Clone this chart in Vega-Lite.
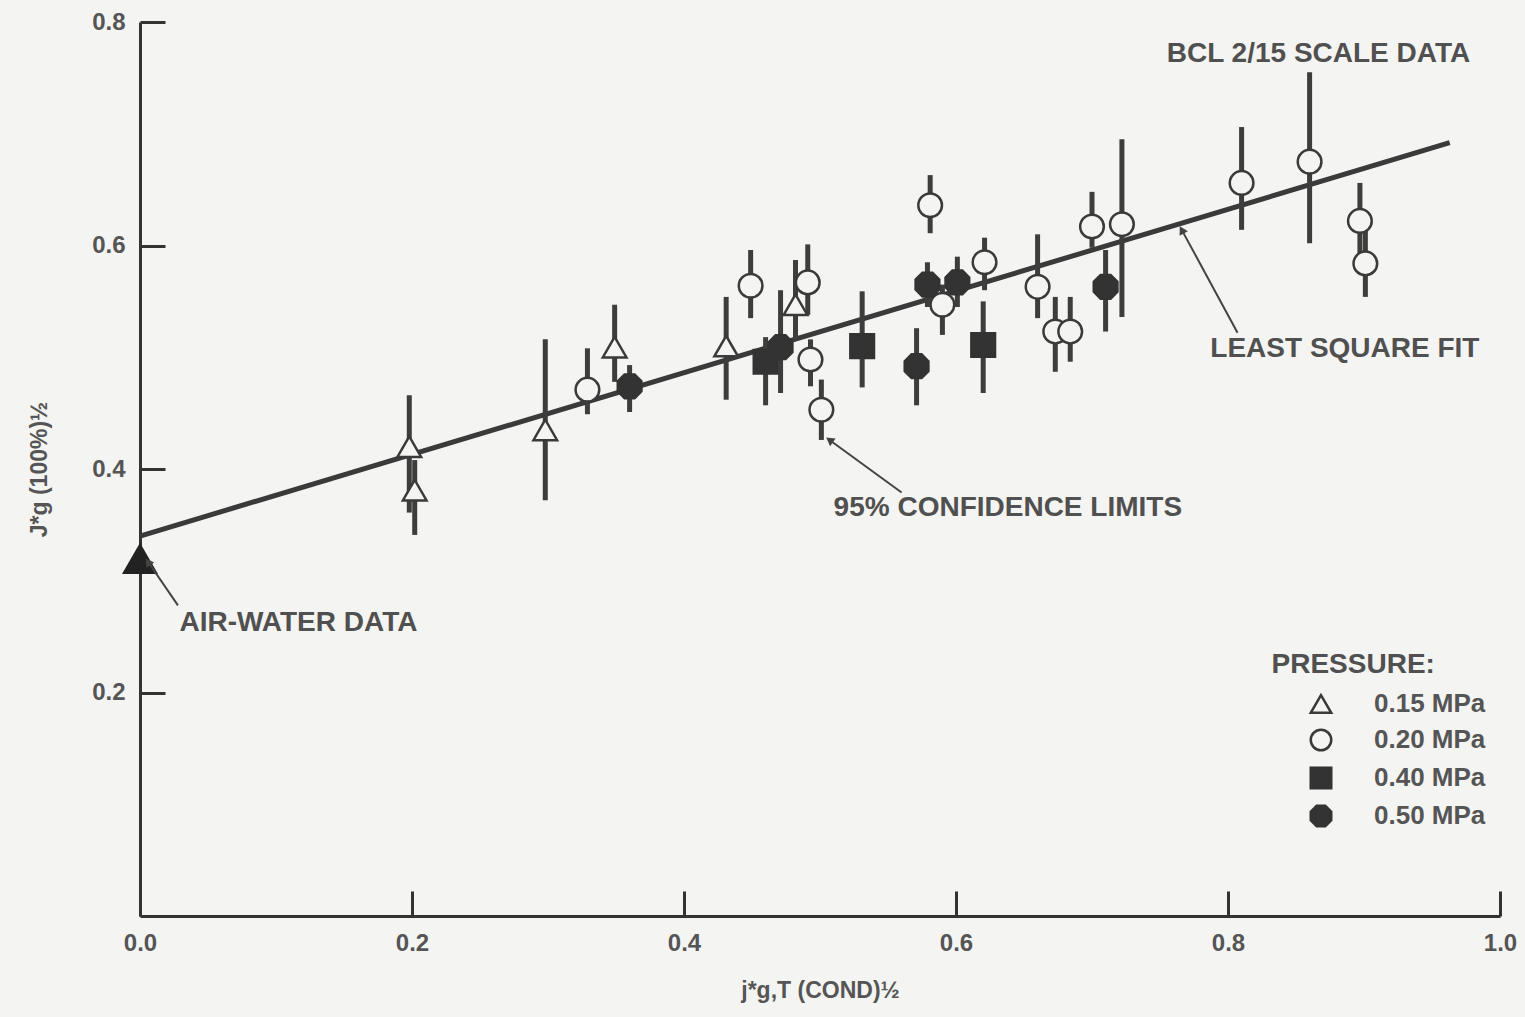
{
  "$schema": "https://vega.github.io/schema/vega-lite/v6.json",
  "autosize": "none",
  "width": 1360,
  "height": 894,
  "padding": {"left": 140, "top": 22, "right": 25, "bottom": 101},
  "background": "#f4f4f2",
  "config": {
    "view": {"stroke": null},
    "font": "Liberation Sans",
    "axis": {
      "grid": false,
      "domainColor": "#333333",
      "domainWidth": 3,
      "tickColor": "#333333",
      "tickWidth": 3,
      "tickSize": -25,
      "labelFlush": false,
      "labelFont": "Liberation Sans",
      "labelFontSize": 24,
      "labelFontWeight": "bold",
      "labelColor": "#555555",
      "titleFont": "Liberation Sans",
      "titleFontSize": 23,
      "titleFontWeight": "bold",
      "titleColor": "#555555"
    }
  },
  "datasets": {
    "pts": [
      {"p": "0.15 MPa", "x": 0.198, "y": 0.420, "lo": 0.361, "hi": 0.466},
      {"p": "0.15 MPa", "x": 0.202, "y": 0.381, "lo": 0.341, "hi": 0.408},
      {"p": "0.15 MPa", "x": 0.298, "y": 0.435, "lo": 0.372, "hi": 0.516},
      {"p": "0.15 MPa", "x": 0.349, "y": 0.509, "lo": 0.478, "hi": 0.547},
      {"p": "0.15 MPa", "x": 0.431, "y": 0.510, "lo": 0.462, "hi": 0.554},
      {"p": "0.15 MPa", "x": 0.482, "y": 0.547, "lo": 0.516, "hi": 0.587},
      {"p": "0.20 MPa", "x": 0.329, "y": 0.471, "lo": 0.449, "hi": 0.508},
      {"p": "0.20 MPa", "x": 0.449, "y": 0.564, "lo": 0.535, "hi": 0.596},
      {"p": "0.20 MPa", "x": 0.491, "y": 0.567, "lo": 0.538, "hi": 0.601},
      {"p": "0.20 MPa", "x": 0.493, "y": 0.498, "lo": 0.474, "hi": 0.516},
      {"p": "0.20 MPa", "x": 0.501, "y": 0.453, "lo": 0.426, "hi": 0.480},
      {"p": "0.20 MPa", "x": 0.581, "y": 0.636, "lo": 0.611, "hi": 0.663},
      {"p": "0.20 MPa", "x": 0.590, "y": 0.547, "lo": 0.520, "hi": 0.565},
      {"p": "0.20 MPa", "x": 0.621, "y": 0.585, "lo": 0.560, "hi": 0.607},
      {"p": "0.20 MPa", "x": 0.660, "y": 0.563, "lo": 0.535, "hi": 0.610},
      {"p": "0.20 MPa", "x": 0.673, "y": 0.523, "lo": 0.487, "hi": 0.554},
      {"p": "0.20 MPa", "x": 0.684, "y": 0.523, "lo": 0.496, "hi": 0.554},
      {"p": "0.20 MPa", "x": 0.700, "y": 0.617, "lo": 0.598, "hi": 0.648},
      {"p": "0.20 MPa", "x": 0.722, "y": 0.619, "lo": 0.536, "hi": 0.695},
      {"p": "0.20 MPa", "x": 0.810, "y": 0.656, "lo": 0.614, "hi": 0.706},
      {"p": "0.20 MPa", "x": 0.860, "y": 0.675, "lo": 0.602, "hi": 0.755},
      {"p": "0.20 MPa", "x": 0.897, "y": 0.622, "lo": 0.587, "hi": 0.656},
      {"p": "0.20 MPa", "x": 0.901, "y": 0.584, "lo": 0.554, "hi": 0.614},
      {"p": "0.40 MPa", "x": 0.460, "y": 0.496, "lo": 0.457, "hi": 0.518},
      {"p": "0.40 MPa", "x": 0.531, "y": 0.510, "lo": 0.473, "hi": 0.559},
      {"p": "0.40 MPa", "x": 0.620, "y": 0.511, "lo": 0.468, "hi": 0.550},
      {"p": "0.50 MPa", "x": 0.360, "y": 0.474, "lo": 0.451, "hi": 0.493},
      {"p": "0.50 MPa", "x": 0.471, "y": 0.509, "lo": 0.468, "hi": 0.560},
      {"p": "0.50 MPa", "x": 0.571, "y": 0.492, "lo": 0.457, "hi": 0.526},
      {"p": "0.50 MPa", "x": 0.579, "y": 0.565, "lo": 0.545, "hi": 0.585},
      {"p": "0.50 MPa", "x": 0.601, "y": 0.567, "lo": 0.545, "hi": 0.590},
      {"p": "0.50 MPa", "x": 0.710, "y": 0.563, "lo": 0.523, "hi": 0.596}
    ],
    "fit": [
      {"x": 0.0, "y": 0.340},
      {"x": 0.963, "y": 0.692}
    ],
    "air": [
      {"x": 0.0, "y": 0.320}
    ],
    "labels": [
      {"text": "BCL 2/15 SCALE DATA", "x": 0.755, "y": 0.771},
      {"text": "LEAST SQUARE FIT", "x": 0.787, "y": 0.507},
      {"text": "95% CONFIDENCE LIMITS", "x": 0.510, "y": 0.365},
      {"text": "AIR-WATER DATA", "x": 0.029, "y": 0.262},
      {"text": "PRESSURE:", "x": 0.832, "y": 0.225}
    ],
    "arrows": [
      {"name": "air", "x": 0.0279, "y": 0.278, "x2": 0.0059, "y2": 0.317},
      {"name": "conf", "x": 0.560, "y": 0.379, "x2": 0.507, "y2": 0.426},
      {"name": "fit", "x": 0.807, "y": 0.522, "x2": 0.766, "y2": 0.614}
    ]
  },
  "layer": [
    {
      "data": {"name": "fit"},
      "mark": {"type": "line", "color": "#3a3a3a", "strokeWidth": 5},
      "encoding": {
        "x": {
          "field": "x", "type": "quantitative",
          "scale": {"domain": [0, 1.0], "nice": false, "zero": false},
          "axis": {
            "values": [0, 0.2, 0.4, 0.6, 0.8, 1.0],
            "format": ".1f",
            "labelPadding": 40,
            "title": "j*g,T (COND)½",
            "titlePadding": 24
          }
        },
        "y": {
          "field": "y", "type": "quantitative",
          "scale": {"domain": [0, 0.8], "nice": false, "zero": false},
          "axis": {
            "values": [0.2, 0.4, 0.6, 0.8],
            "format": ".1f",
            "labelPadding": 40,
            "title": "J*g (100%)½",
            "titlePadding": 40
          }
        }
      }
    },
    {
      "data": {"name": "pts"},
      "mark": {"type": "rule", "color": "#3d3d3d", "strokeWidth": 5},
      "encoding": {
        "x": {"field": "x", "type": "quantitative"},
        "y": {"field": "lo", "type": "quantitative"},
        "y2": {"field": "hi"}
      }
    },
    {
      "data": {"name": "pts"},
      "mark": {"type": "point", "filled": true, "strokeWidth": 2.5, "size": 560, "opacity": 1},
      "encoding": {
        "x": {"field": "x", "type": "quantitative"},
        "y": {"field": "y", "type": "quantitative"},
        "shape": {
          "field": "p", "type": "nominal",
          "scale": {
            "domain": ["0.15 MPa", "0.20 MPa", "0.40 MPa", "0.50 MPa"],
            "range": ["triangle-up", "circle", "square", "M-0.42,-1L0.42,-1L1,-0.42L1,0.42L0.42,1L-0.42,1L-1,0.42L-1,-0.42Z"]
          },
          "legend": {
            "orient": "none",
            "legendX": 1168,
            "legendY": 669,
            "title": null,
            "padding": 0,
            "labelFont": "Liberation Sans",
            "labelFontSize": 26,
            "labelFontWeight": "bold",
            "labelColor": "#555555",
            "labelOffset": 40,
            "symbolSize": 420,
            "symbolStrokeWidth": 2.5,
            "rowPadding": 6
          }
        },
        "fill": {
          "field": "p", "type": "nominal",
          "scale": {
            "domain": ["0.15 MPa", "0.20 MPa", "0.40 MPa", "0.50 MPa"],
            "range": ["#f4f4f2", "#f4f4f2", "#333333", "#333333"]
          }
        },
        "stroke": {
          "field": "p", "type": "nominal",
          "scale": {
            "domain": ["0.15 MPa", "0.20 MPa", "0.40 MPa", "0.50 MPa"],
            "range": ["#3a3a3a", "#3a3a3a", "#333333", "#333333"]
          }
        }
      }
    },
    {
      "data": {"name": "air"},
      "mark": {"type": "point", "shape": "triangle-up", "filled": true, "color": "#222222", "size": 1300, "opacity": 1},
      "encoding": {
        "x": {"field": "x", "type": "quantitative"},
        "y": {"field": "y", "type": "quantitative"}
      }
    },
    {
      "data": {"name": "arrows"},
      "mark": {"type": "rule", "color": "#444444", "strokeWidth": 2},
      "encoding": {
        "x": {"field": "x", "type": "quantitative"},
        "y": {"field": "y", "type": "quantitative"},
        "x2": {"field": "x2"},
        "y2": {"field": "y2"}
      }
    },
    {
      "data": {"name": "arrows"},
      "transform": [{"filter": "datum.name == 'air'"}],
      "mark": {"type": "point", "shape": "triangle-up", "filled": true, "color": "#444444", "size": 90, "angle": 325, "opacity": 1},
      "encoding": {
        "x": {"field": "x2", "type": "quantitative"},
        "y": {"field": "y2", "type": "quantitative"}
      }
    },
    {
      "data": {"name": "arrows"},
      "transform": [{"filter": "datum.name == 'conf'"}],
      "mark": {"type": "point", "shape": "triangle-up", "filled": true, "color": "#444444", "size": 90, "angle": 306, "opacity": 1},
      "encoding": {
        "x": {"field": "x2", "type": "quantitative"},
        "y": {"field": "y2", "type": "quantitative"}
      }
    },
    {
      "data": {"name": "arrows"},
      "transform": [{"filter": "datum.name == 'fit'"}],
      "mark": {"type": "point", "shape": "triangle-up", "filled": true, "color": "#444444", "size": 90, "angle": 331, "opacity": 1},
      "encoding": {
        "x": {"field": "x2", "type": "quantitative"},
        "y": {"field": "y2", "type": "quantitative"}
      }
    },
    {
      "data": {"name": "labels"},
      "mark": {"type": "text", "align": "left", "baseline": "middle", "font": "Liberation Sans", "fontSize": 28, "fontWeight": "bold", "color": "#505050"},
      "encoding": {
        "x": {"field": "x", "type": "quantitative"},
        "y": {"field": "y", "type": "quantitative"},
        "text": {"field": "text"}
      }
    }
  ]
}
